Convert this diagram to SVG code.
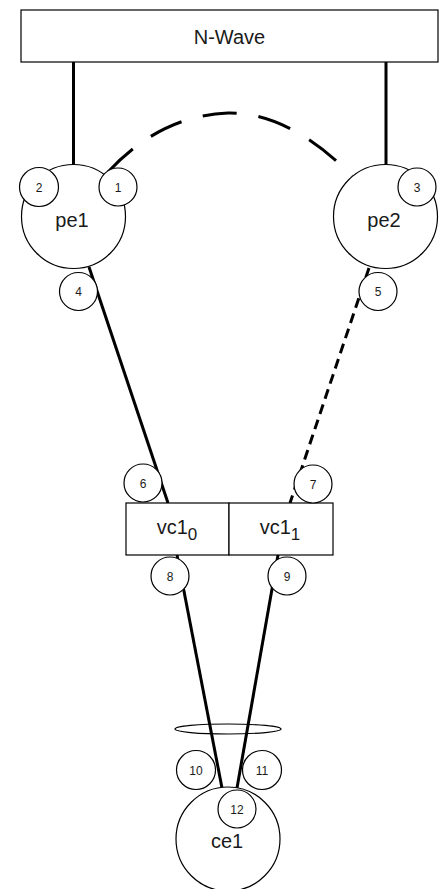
<svg xmlns="http://www.w3.org/2000/svg" width="444" height="889" viewBox="0 0 444 889">
<style>
.shape{fill:#fff;stroke:#000;stroke-width:1.2}
.lbl{font-family:"Liberation Sans",Arial,sans-serif;fill:#1a1a1a;text-anchor:middle}
.big{font-size:20px}
.num{font-size:12px}
.link{fill:none;stroke:#000;stroke-width:3}
.dash{stroke-dasharray:34 22}
.dot{stroke-dasharray:10 6}
</style>
<rect width="444" height="889" fill="#fff"/>
<g id="connectors">
<line class="link" x1="73.5" y1="62" x2="73.5" y2="165"/>
<line class="link" x1="386" y1="62" x2="386" y2="165"/>
<path class="link dash" d="M108,172 C130,148 170,115 228,113 C280,112 325,148 352,176"/>
<line class="link" x1="89" y1="267" x2="168" y2="503"/>
<line class="link dot" x1="369" y1="268" x2="290" y2="503"/>
<line class="link" x1="177" y1="555" x2="222" y2="788"/>
<line class="link" x1="278" y1="555" x2="237" y2="788"/>
</g>
<g id="nwave">
<rect class="shape" x="21" y="10" width="417" height="52"/>
<text class="lbl big" x="229.5" y="44" font-size="21">N-Wave</text>
</g>
<g id="pe1">
<circle class="shape" cx="73.5" cy="216.5" r="52"/>
<text class="lbl big" x="72" y="227">pe1</text>
</g>
<g id="pe2">
<circle class="shape" cx="385.5" cy="216.5" r="52"/>
<text class="lbl big" x="384" y="227">pe2</text>
</g>
<g id="p1"><circle class="shape" cx="118" cy="187" r="19"/><text class="lbl num" x="118" y="192">1</text></g>
<g id="p2"><circle class="shape" cx="39" cy="187" r="19.5"/><text class="lbl num" x="39" y="192">2</text></g>
<g id="p3"><circle class="shape" cx="417" cy="187" r="19"/><text class="lbl num" x="417" y="192">3</text></g>
<g id="p4"><circle class="shape" cx="78.5" cy="291.5" r="19"/><text class="lbl num" x="78.5" y="296">4</text></g>
<g id="p5"><circle class="shape" cx="378" cy="291.5" r="19"/><text class="lbl num" x="378" y="296">5</text></g>
<g id="vc1">
<rect class="shape" x="126" y="503" width="103" height="52"/>
<rect class="shape" x="229" y="503" width="104" height="52"/>
<text class="lbl big" x="177" y="534">vc1<tspan font-size="17" dy="6">0</tspan></text>
<text class="lbl big" x="280" y="534">vc1<tspan font-size="17" dy="6">1</tspan></text>
</g>
<g id="p6"><circle class="shape" cx="143" cy="483" r="19"/><text class="lbl num" x="143" y="488">6</text></g>
<g id="p7"><circle class="shape" cx="313" cy="484" r="19"/><text class="lbl num" x="313" y="489">7</text></g>
<g id="p8"><circle class="shape" cx="170" cy="576" r="19"/><text class="lbl num" x="170" y="581">8</text></g>
<g id="p9"><circle class="shape" cx="287" cy="576" r="19"/><text class="lbl num" x="287" y="581">9</text></g>
<g id="bundle"><ellipse cx="228" cy="729" rx="53" ry="5" fill="none" stroke="#000" stroke-width="1.2"/></g>
<g id="p10"><circle class="shape" cx="196" cy="770" r="19.5"/><text class="lbl num" x="196" y="775">10</text></g>
<g id="p11"><circle class="shape" cx="262" cy="770" r="19.5"/><text class="lbl num" x="262" y="775">11</text></g>
<g id="ce1">
<circle class="shape" cx="228" cy="839" r="52"/>
<text class="lbl big" x="227" y="848">ce1</text>
</g>
<g id="p12"><circle class="shape" cx="237" cy="809" r="19"/><text class="lbl num" x="237" y="814">12</text></g>
</svg>
